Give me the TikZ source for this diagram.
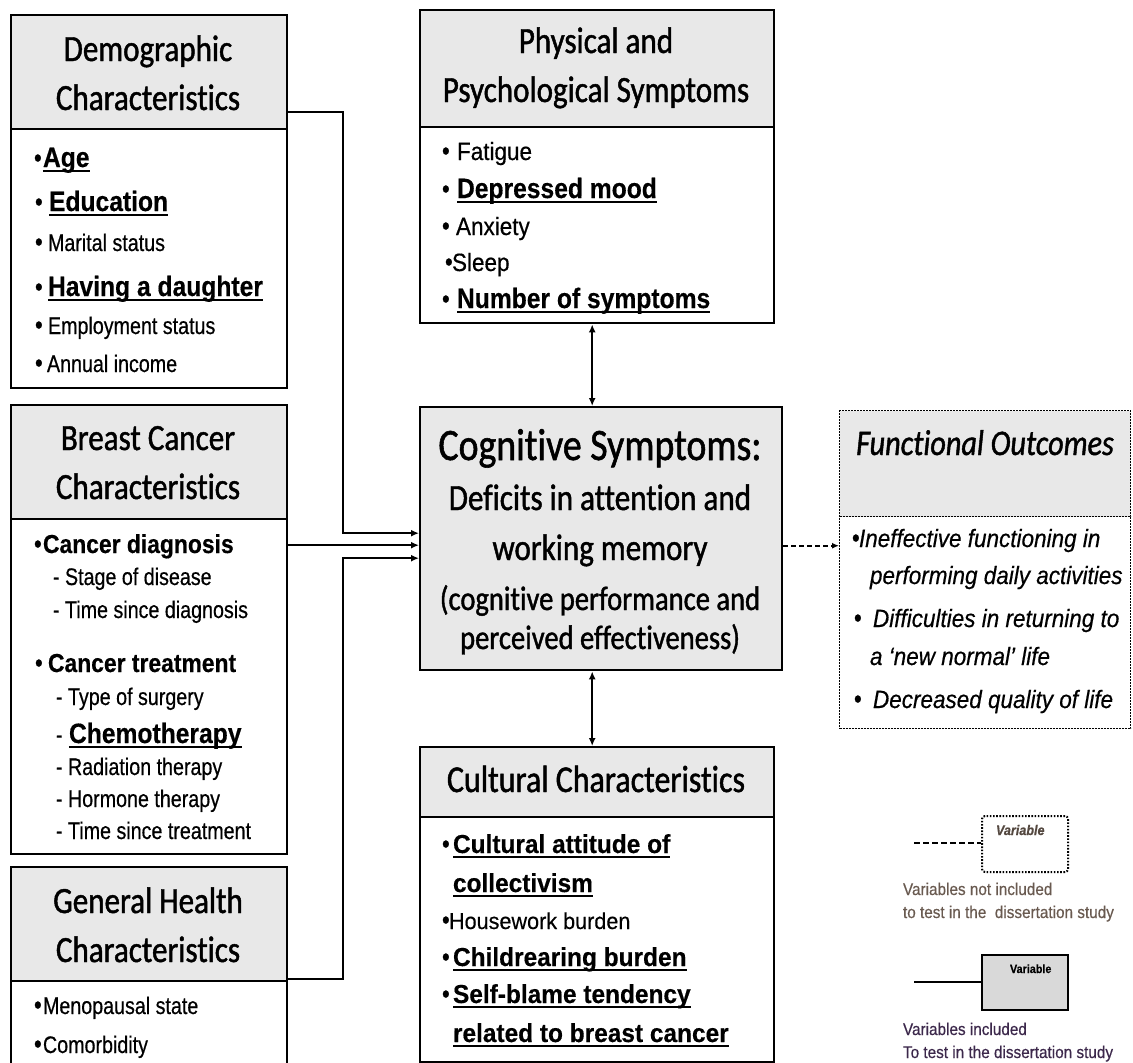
\documentclass[tikz,border=0pt]{standalone}
\usepackage{fontspec}
\setmainfont{Liberation Sans}
\newfontfamily\hdf[FakeStretch=0.84,FakeBold=1.2,Ligatures={NoCommon}]{Carlito}
\newfontfamily\narf[FakeStretch=0.82,FakeBold=0.5]{Liberation Sans}
\newfontfamily\regf[FakeStretch=0.9,FakeBold=0.5]{Liberation Sans}
\newfontfamily\bdf[FakeStretch=0.88,FakeBold=0.4]{Liberation Sans}
\newfontfamily\cbdf[FakeStretch=0.94,FakeBold=0.4]{Liberation Sans}
\usetikzlibrary{arrows.meta,calc}
\definecolor{hdgray}{RGB}{232,232,232}
\definecolor{lgfill}{RGB}{217,217,217}
\definecolor{lgtxtA}{RGB}{105,90,80}
\definecolor{lgtxtB}{RGB}{60,40,75}
\newcommand\fs[1]{\fontsize{#1}{#1}\selectfont}
\newcommand\myul[1]{\setbox0=\hbox{#1}\rlap{\rule[-5pt]{\wd0}{1.9pt}}\box0}
\newcommand\bu[1]{\makebox[#1pt][l]{\narf\fs{27}\textbullet}}
\tikzset{
  box/.style={draw=black, line width=2.4pt, inner sep=0pt, anchor=north west, rectangle},
  hbox/.style={box, fill=hdgray},
  dbox/.style={draw=black, line width=1pt, dash pattern=on 2pt off 1pt, inner sep=0pt, anchor=north west, rectangle},
  t/.style={anchor=base west, inner sep=0pt, outer sep=0pt},
  hc/.style={anchor=base, inner sep=0pt, outer sep=0pt},
  conn/.style={line width=2pt, -{Latex[length=8pt,width=7pt]}},
  dconn/.style={line width=2pt, {Latex[length=8pt,width=7pt]}-{Latex[length=8pt,width=7pt]}},
  dashconn/.style={line width=1.8pt, dash pattern=on 5pt off 3pt, -{Latex[length=7pt,width=6pt]}},
}
\begin{document}
\begin{tikzpicture}[x=1pt,y=-1pt]
\useasboundingbox (0,0) rectangle (1133,1063);
\clip (0,0) rectangle (1133,1063);

% ---------- boxes ----------
\node[box, minimum width=276pt, minimum height=259pt] (demoB) at (10,128) {};
\node[hbox, minimum width=276pt, minimum height=114pt] (demoH) at (10,14) {};
\node[box, minimum width=276pt, minimum height=335pt] (breastB) at (10,518) {};
\node[hbox, minimum width=276pt, minimum height=114pt] (breastH) at (10,404) {};
\node[box, minimum width=276pt, minimum height=130pt] (genB) at (10,980) {};
\node[hbox, minimum width=276pt, minimum height=114pt] (genH) at (10,866) {};
\node[box, minimum width=354pt, minimum height=196pt] (physB) at (419,126) {};
\node[hbox, minimum width=354pt, minimum height=117pt] (physH) at (419,9) {};
\node[hbox, minimum width=362pt, minimum height=263pt] (cog) at (419,406) {};
\node[dbox, fill=hdgray, minimum width=291pt, minimum height=106pt] (funcH) at (839,410) {};
\node[dbox, minimum width=291pt, minimum height=212pt] (funcB) at (839,516) {};
\node[box, minimum width=354pt, minimum height=245pt] (cultB) at (419,816) {};
\node[hbox, minimum width=354pt, minimum height=70pt] (cultH) at (419,746) {};

% ---------- headers ----------
\node[hc] (demoT1) at (148,61) {\hdf\fs{37}Demographic};
\node[hc] (demoT2) at (148,110) {\hdf\fs{37}Characteristics};
\node[hc] (brT1) at (148,450) {\hdf\fs{37}Breast Cancer};
\node[hc] (brT2) at (148,499) {\hdf\fs{37}Characteristics};
\node[hc] (gnT1) at (148,913) {\hdf\fs{37}General Health};
\node[hc] (gnT2) at (148,962) {\hdf\fs{37}Characteristics};
\node[hc] (phT1) at (596,53) {\hdf\fs{37}Physical and};
\node[hc] (phT2) at (596,102) {\hdf\fs{37}Psychological Symptoms};
\node[hc] (cuT) at (596,792) {\hdf\fs{38}Cultural Characteristics};
\node[hc] (cgT1) at (600,460) {\hdf\fs{45}Cognitive Symptoms:};
\node[hc] (cgT2) at (600,510) {\hdf\fs{37}Deficits in attention and};
\node[hc] (cgT3) at (600,560) {\hdf\fs{37}working memory};
\node[hc] (cgT4) at (600,610) {\hdf\fs{34}(cognitive performance and};
\node[hc] (cgT5) at (600,649) {\hdf\fs{34}perceived effectiveness)};
\node[hc] (fuT) at (985,455) {\hdf\itshape\fs{36}Functional Outcomes};

% ---------- demographic items ----------
\node[t] (d1) at (34,167) {\bu{9}\bdf\bfseries\fs{28}\myul{Age}};
\node[t] (d2) at (35,211) {\bu{14}\bdf\bfseries\fs{28}\myul{Education}};
\node[t] (d3) at (35,251) {\bu{13}\narf\fs{24}Marital status};
\node[t] (d4) at (35,296) {\bu{13}\bdf\bfseries\fs{28}\myul{Having a daughter}};
\node[t] (d5) at (35,334) {\bu{13}\narf\fs{24}Employment status};
\node[t] (d6) at (35,372) {\bu{12}\narf\fs{24}Annual income};

% ---------- breast cancer items ----------
\node[t] (b1) at (34,553) {\bu{9}\bdf\bfseries\fs{26}Cancer diagnosis};
\node[t] (b2) at (53,585) {\narf\fs{24}- Stage of disease};
\node[t] (b3) at (53,618) {\narf\fs{24}- Time since diagnosis};
\node[t] (b4) at (35,672) {\bu{13}\bdf\bfseries\fs{26}Cancer treatment};
\node[t] (b5) at (56,705) {\narf\fs{24}- Type of surgery};
\node[t] (b6) at (56,743) {\makebox[13pt][l]{\narf\fs{24}-}\bdf\bfseries\fs{28}\myul{Chemotherapy}};
\node[t] (b7) at (56,775) {\narf\fs{24}- Radiation therapy};
\node[t] (b8) at (56,807) {\narf\fs{24}- Hormone therapy};
\node[t] (b9) at (56,839) {\narf\fs{24}- Time since treatment};

% ---------- general health items ----------
\node[t] (g1) at (34,1014) {\bu{9}\narf\fs{24}Menopausal state};
\node[t] (g2) at (34,1053) {\bu{9}\narf\fs{24}Comorbidity};

% ---------- physical items ----------
\node[t] (p1) at (442,160) {\bu{15}\regf\fs{25}Fatigue};
\node[t] (p2) at (442,198) {\bu{15}\bdf\bfseries\fs{28}\myul{Depressed mood}};
\node[t] (p3) at (442,235) {\bu{14}\regf\fs{25}Anxiety};
\node[t] (p4) at (445,271) {\bu{7}\regf\fs{25}Sleep};
\node[t] (p5) at (442,308) {\bu{15}\bdf\bfseries\fs{28}\myul{Number of symptoms}};

% ---------- cultural items ----------
\node[t] (c1) at (442,853) {\bu{11}\cbdf\bfseries\fs{26}\myul{Cultural attitude of}};
\node[t] (c2) at (453,892) {\cbdf\bfseries\fs{26}\myul{collectivism}};
\node[t] (c3) at (442,929) {\bu{7}\cbdf\fs{23}Housework burden};
\node[t] (c4) at (442,966) {\bu{11}\cbdf\bfseries\fs{26}\myul{Childrearing burden}};
\node[t] (c5) at (442,1003) {\bu{11}\cbdf\bfseries\fs{26}\myul{Self-blame tendency}};
\node[t] (c6) at (453,1042) {\cbdf\bfseries\fs{26}\myul{related to breast cancer}};

% ---------- functional items ----------
\node[t] (f1) at (852,547) {\bu{7}\regf\itshape\fs{25}Ineffective functioning in};
\node[t] (f2) at (870,584) {\regf\itshape\fs{25}performing daily activities};
\node[t] (f3) at (854,627) {\bu{19}\regf\itshape\fs{25}Difficulties in returning to};
\node[t] (f4) at (870,665) {\regf\itshape\fs{25}a ‘new normal’ life};
\node[t] (f5) at (854,708) {\bu{19}\regf\itshape\fs{25}Decreased quality of life};

% ---------- connectors ----------
\coordinate (bus) at (343,0);
\coordinate (t1) at ([yshift=5.5pt]cog.west);
\coordinate (t2) at ([yshift=-6.5pt]cog.west);
\coordinate (t3) at ([yshift=-19.5pt]cog.west);
\draw[conn] ([yshift=18pt]demoH.south east) -| (bus |- t1) -- (t1);
\draw[conn] (breastB.east |- t2) -- (t2);
\draw[conn] ([yshift=3pt]genH.south east) -| (bus |- t3) -- (t3);
\draw[dconn] ([xshift=-5pt]physB.south) -- ([xshift=-5pt]physB.south |- cog.north);
\draw[dconn] ([xshift=-5pt]cultH.north) -- ([xshift=-5pt]cultH.north |- cog.south);
\coordinate (t4) at ([yshift=-7pt]cog.east);
\draw[dashconn] (t4) -- (t4 -| funcB.west);

% ---------- legend ----------
\node[draw=black, line width=2pt, dash pattern=on 1.6pt off 1.6pt, rounded corners=3pt, anchor=north west, inner sep=0pt, minimum width=86pt, minimum height=56pt] (lgDot) at (981,815) {};
\node[t] (lgDotT) at (996,835) {\regf\bfseries\itshape\fs{14}\color{lgtxtA!80!black}Variable};
\coordinate (lgA) at (914,843);
\draw[line width=2pt, dash pattern=on 6pt off 3pt] (lgA) -- (lgA -| lgDot.west);
\node[t] (lgA1) at (903,895) {\regf\fs{17}\color{lgtxtA}Variables not included};
\node[t] (lgA2) at (903,918) {\regf\fs{17}\color{lgtxtA}to test in the\ \ dissertation study};

\node[draw=black, line width=2.2pt, fill=lgfill, anchor=north west, inner sep=0pt, minimum width=86pt, minimum height=55pt] (lgSol) at (981,954) {};
\node[t] (lgSolT) at (1010,973) {\regf\bfseries\fs{12}Variable};
\coordinate (lgB) at (914,982);
\draw[line width=2.2pt] (lgB) -- (lgB -| lgSol.west);
\node[t] (lgB1) at (903,1035) {\regf\fs{17}\color{lgtxtB}Variables included};
\node[t] (lgB2) at (903,1058) {\regf\fs{17}\color{lgtxtB}To test in the dissertation study};
\end{tikzpicture}
\end{document}
